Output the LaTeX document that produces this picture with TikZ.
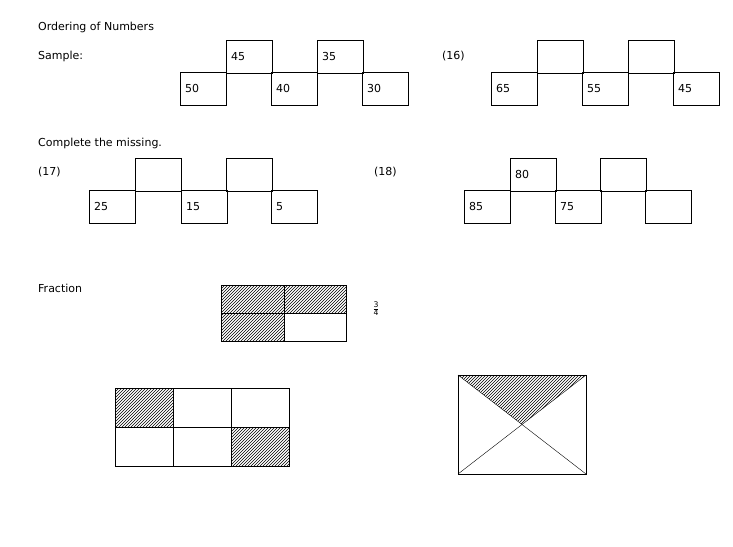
\documentclass[tikz,border=0pt]{standalone}
\usepackage{fontspec}
\setmainfont{DejaVu Sans}
\usetikzlibrary{patterns}
\tikzset{
  box/.style={draw, anchor=north west, inner xsep=5pt, inner ysep=0pt,
    text width=35.5pt, minimum height=32.5pt, align=left, font=\fontsize{11}{13}\selectfont},
  lbl/.style={anchor=west, inner sep=0pt, font=\fontsize{11}{13}\selectfont},
  hatch/.style={pattern=north east lines}
}
\begin{document}
\begin{tikzpicture}[x=1pt,y=-1pt]
\useasboundingbox (0,0) rectangle (733,546);

%% Ordering of numbers
\node[lbl] (title) at (38,27) {Ordering of Numbers};
\node[lbl] (sample) at (38,56) {Sample:};

% sample
\node[box] (s1) at (180,72) {50};
\node[box] (s2) at (226,40) {45};
\node[box] (s3) at (271,72) {40};
\node[box] (s4) at (317,40) {35};
\node[box] (s5) at (362,72) {30};

% (16)
\node[lbl] (q16) at (442,56) {(16)};
\node[box] (a1) at (491,72) {65};
\node[box] (a2) at (537,40) {};
\node[box] (a3) at (582,72) {55};
\node[box] (a4) at (628,40) {};
\node[box] (a5) at (673,72) {45};

\node[lbl] (missing) at (38,143) {Complete the missing.};

% (17)
\node[lbl] (q17) at (38,172) {(17)};
\node[box] (b1) at (89,190) {25};
\node[box] (b2) at (135,158) {};
\node[box] (b3) at (181,190) {15};
\node[box] (b4) at (226,158) {};
\node[box] (b5) at (271,190) {5};

% (18)
\node[lbl] (q18) at (374,172) {(18)};
\node[box] (c1) at (464,190) {85};
\node[box] (c2) at (510,158) {80};
\node[box] (c3) at (555,190) {75};
\node[box] (c4) at (600,158) {};
\node[box] (c5) at (645,190) {};

%% Fraction
\node[lbl] (frac) at (38,288) {Fraction};
\fill[hatch] (221,285) rectangle (346,313);
\fill[hatch] (221,313) rectangle (284,341);
\draw (221,285) rectangle (346,341);
\draw (284,285) -- (284,341);
\draw (221,313) -- (346,313);
\node[inner sep=0pt, font=\fontsize{11}{13}\selectfont] (fv) at (376,309) {$\frac{\mathrm{3}}{\mathrm{4}}$};

% grid
\fill[hatch] (115,388) rectangle (173,427);
\fill[hatch] (231,427) rectangle (289,466);
\draw (115,388) rectangle (289,466);
\draw (173,388) -- (173,466);
\draw (231,388) -- (231,466);
\draw (115,427) -- (289,427);

% crossed rectangle
\fill[pattern=north east lines] (458,375) -- (586,375) -- (522,424.5) -- cycle;
\draw (458,375) rectangle (586,474);
\draw (458,375) -- (586,474);
\draw (586,375) -- (458,474);

\end{tikzpicture}
\end{document}
